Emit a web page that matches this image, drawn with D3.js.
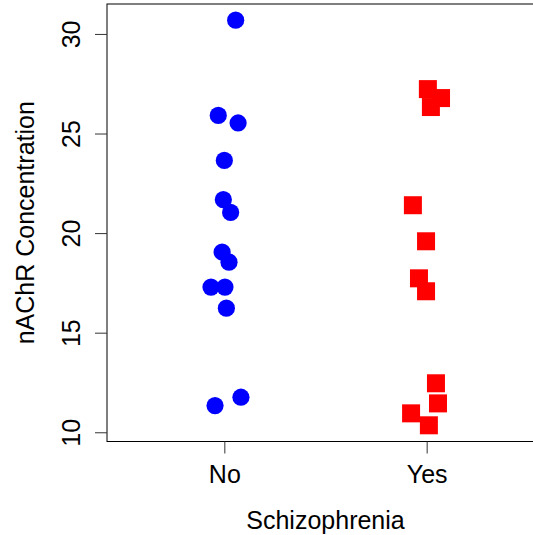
<!DOCTYPE html>
<html>
<head>
<meta charset="utf-8">
<script src="https://cdn.jsdelivr.net/npm/d3@7"></script>
<style>
  body { margin: 0; background: #fff; }
  text { font-family: "Liberation Sans", Arial, Helvetica, sans-serif; }
</style>
</head>
<body>
<div class="canvas"></div>
<script>
// groups on the x axis
var groups = ["No", "Yes"];
// nAChR concentration
var noValues  = [30.69, 25.91, 25.53, 23.65, 21.68, 21.04, 19.05, 18.54, 17.29, 17.29, 16.23, 11.76, 11.34];
var noJitter  = [0.056, -0.030, 0.068, 0.000, -0.005, 0.031, -0.011, 0.023, -0.066, 0.003, 0.010, 0.082, -0.046];
var yesValues = [27.23, 26.78, 26.33, 21.40, 19.59, 17.73, 17.08, 12.46, 11.45, 10.95, 10.35];
var yesJitter = [0.006, 0.071, 0.021, -0.068, -0.003, -0.038, -0.003, 0.046, 0.056, -0.077, 0.011];
var yTicks = [10, 15, 20, 25, 30];

var width = 533, height = 535;
// plot box (right edge falls outside the window, like the original)
var boxL = 107, boxT = 4, boxR = 544, boxB = 441.5;

// y range padded by 4% like R does
var all = noValues.concat(yesValues);
var ext = d3.extent(all);
var pad = (ext[1] - ext[0]) * 0.04;

var y = d3.scaleLinear()
  .domain([ext[0] - pad, ext[1] + pad])
  .range([boxB, boxT]);
var x = d3.scaleLinear()
  .domain([0.42, 2.58])
  .range([boxL, boxR]);

var svg = d3.select(".canvas").append("svg")
  .attr("width", width)
  .attr("height", height);

// box
svg.append("rect")
  .attr("x", boxL).attr("y", boxT)
  .attr("width", boxR - boxL).attr("height", boxB - boxT)
  .attr("fill", "none").attr("stroke", "#000").attr("stroke-width", 1);

// y axis
var gy = svg.append("g")
  .attr("transform", "translate(" + boxL + ",0)")
  .call(d3.axisLeft(y).tickValues(yTicks).tickSize(12).tickPadding(0));
gy.select(".domain").remove();
gy.selectAll("line").attr("stroke", "#333");
gy.selectAll("text")
  .attr("transform", "rotate(-90)")
  .attr("x", 0).attr("y", -27).attr("dy", 0)
  .attr("text-anchor", "middle")
  .attr("fill", "#000")
  .style("font-size", "25px");

// x axis
var gx = svg.append("g")
  .attr("transform", "translate(0," + boxB + ")")
  .call(d3.axisBottom(x).tickValues([1, 2]).tickFormat(function(d){ return groups[d - 1]; }).tickSize(12));
gx.select(".domain").remove();
gx.selectAll("line").attr("stroke", "#333");
gx.selectAll("text")
  .attr("y", 41).attr("dy", 0)
  .attr("fill", "#000")
  .style("font-size", "25px");

// points
svg.append("g").selectAll("circle")
  .data(noValues)
  .enter()
  .append("circle")
    .attr("cx", function(d, i){ return x(1 + noJitter[i]); })
    .attr("cy", function(d){ return y(d); })
    .attr("r", 8.6)
    .attr("fill", "#0000ff");

var sq = 18;
svg.append("g").selectAll("rect")
  .data(yesValues)
  .enter()
  .append("rect")
    .attr("x", function(d, i){ return x(2 + yesJitter[i]) - sq / 2; })
    .attr("y", function(d){ return y(d) - sq / 2; })
    .attr("width", sq).attr("height", sq)
    .attr("fill", "#ff0000");

// titles
svg.append("text")
  .attr("x", (boxL + boxR) / 2).attr("y", 529)
  .attr("text-anchor", "middle")
  .style("font-size", "25px")
  .text("Schizophrenia");

svg.append("text")
  .attr("transform", "translate(33.5," + (boxT + boxB) / 2 + ") rotate(-90)")
  .attr("text-anchor", "middle")
  .style("font-size", "25px")
  .text("nAChR Concentration");
</script>
</body>
</html>
